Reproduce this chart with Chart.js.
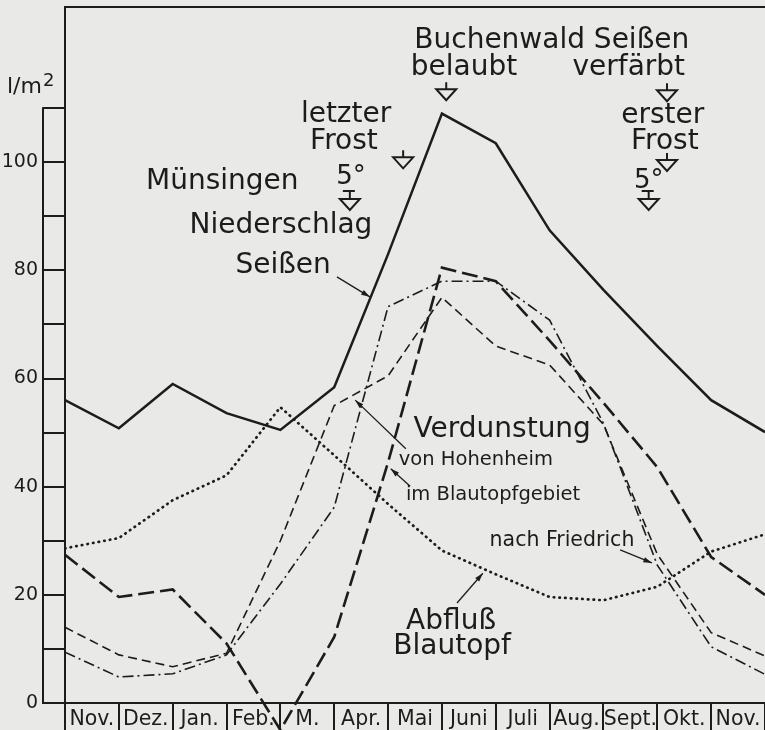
<!DOCTYPE html>
<html lang="de">
<head>
<meta charset="utf-8">
<title>Niederschlag, Verdunstung und Abfluß im Blautopfgebiet</title>
<script src="https://cdn.jsdelivr.net/npm/chart.js@4.4.1/dist/chart.umd.min.js"></script>
<style>
  html, body { margin: 0; padding: 0; background: #e9e9e7; }
  canvas { display: block; }
</style>
</head>
<body>
<canvas id="chart" width="765" height="730"></canvas>
<script>
// Monate Nov. bis Nov.; die Werte liegen jeweils auf dem Monatsanfang
const months = ['Nov.', 'Dez.', 'Jan.', 'Feb.', 'M.', 'Apr.', 'Mai', 'Juni', 'Juli', 'Aug.', 'Sept.', 'Okt.', 'Nov.'];
const monthStart = [0, 1, 2, 3, 4, 5, 6, 7, 8, 9, 10, 11, 12, 13];

// l/m²
const niederschlagSeissen = [56, 50.8, 59, 53.6, 50.5, 58.4, 83, 109, 103.5, 87.4, 76.4, 66, 56, 50.1];
const verdunstungBlautopf = [27.4, 19.6, 21, 11, -5, 12.2, 44.5, 80.5, 78, 67, 55.5, 43.6, 27, 20];
const verdunstungHohenheim = [14, 8.9, 6.7, 9.2, 30, 55, 60.5, 75, 66, 62.5, 51.5, 27.5, 13, 8.7];
const verdunstungFriedrich = [9.4, 4.8, 5.4, 8.9, 22, 36.2, 73.3, 78, 78, 70.8, 51.7, 25.5, 10.4, 5.3];
const abflussBlautopf = [28.6, 30.5, 37.5, 42.1, 54.7, 45.8, 36.8, 28.2, 23.8, 19.6, 19, 21.5, 28, 31.2];

const yTicks = [0, 10, 20, 30, 40, 50, 60, 70, 80, 90, 100, 110];
const yLabels = [0, 20, 40, 60, 80, 100];

const ink = '#1c1c1c';
const paper = '#e9e9e7';
const family = '"DejaVu Sans", "Liberation Sans", sans-serif';

// Beschriftungen im Diagramm (in Achsenwerten)
const notes = [
  { text: 'Buchenwald Seißen', x: 9.04, y: 122.4, size: 28 },
  { text: 'belaubt', x: 7.41, y: 117.5, size: 28 },
  { text: 'verfärbt', x: 10.47, y: 117.5, size: 28 },
  { text: 'letzter', x: 5.22, y: 108.7, size: 28 },
  { text: 'Frost', x: 5.18, y: 103.7, size: 28 },
  { text: 'Münsingen', x: 2.92, y: 96.4, size: 28 },
  { text: '5°', x: 5.31, y: 97.2, size: 26 },
  { text: 'Niederschlag', x: 4.01, y: 88.2, size: 28 },
  { text: 'Seißen', x: 4.05, y: 80.8, size: 28 },
  { text: 'erster', x: 11.1, y: 108.6, size: 28 },
  { text: 'Frost', x: 11.14, y: 103.7, size: 28 },
  { text: '5°', x: 10.84, y: 96.5, size: 26 },
  { text: 'Verdunstung', x: 8.12, y: 50.5, size: 28 },
  { text: 'von Hohenheim', x: 7.63, y: 44.9, size: 19.5 },
  { text: 'im Blautopfgebiet', x: 7.95, y: 38.5, size: 19.5 },
  { text: 'nach Friedrich', x: 9.23, y: 30.1, size: 20.5 },
  { text: 'Abfluß', x: 7.17, y: 15.1, size: 28 },
  { text: 'Blautopf', x: 7.19, y: 10.4, size: 28 }
];

// Dreieck-Marken (Spitze nach unten), Lage = Oberkante des Dreiecks
const markers = [
  { x: 7.08, y: 113.5 },
  { x: 11.18, y: 113.3 },
  { x: 6.28, y: 100.9 },
  { x: 11.18, y: 100.4 },
  { x: 5.29, y: 93.2, underline: true },
  { x: 10.84, y: 93.2, underline: true }
];

// Hinweispfeile: von (x0,y0) nach (x1,y1)
const pointers = [
  { x0: 5.05, y0: 78.8, x1: 5.66, y1: 75.1 },
  { x0: 6.33, y0: 47.0, x1: 5.39, y1: 56.0 },
  { x0: 6.41, y0: 40.1, x1: 6.05, y1: 43.3 },
  { x0: 10.31, y0: 28.3, x1: 10.9, y1: 25.9 },
  { x0: 7.28, y0: 18.5, x1: 7.76, y1: 24.0 }
];

function points(values) {
  return monthStart.map((m, i) => ({ x: m, y: values[i] }));
}

const decor = {
  id: 'decor',
  beforeDraw(chart) {
    const c = chart.ctx;
    c.save();
    c.fillStyle = paper;
    c.fillRect(0, 0, chart.width, chart.height);
    c.restore();
  },
  afterDraw(chart) {
    const { ctx, chartArea, scales } = chart;
    const sx = scales.x, sy = scales.y;
    ctx.save();
    ctx.strokeStyle = ink;
    ctx.fillStyle = ink;
    ctx.lineWidth = 2;

    // Rahmen oben
    ctx.beginPath();
    ctx.moveTo(chartArea.left - 1, chartArea.top);
    ctx.lineTo(chartArea.right, chartArea.top);
    ctx.stroke();

    // Skalenleiste links
    const bar = chartArea.left - 22;
    ctx.beginPath();
    ctx.moveTo(bar, sy.getPixelForValue(0) + 1);
    ctx.lineTo(bar, sy.getPixelForValue(110) - 1);
    ctx.stroke();

    // Einheit
    ctx.textBaseline = 'alphabetic';
    ctx.textAlign = 'left';
    ctx.font = '22px ' + family;
    const ux = 7, uy = sy.getPixelForValue(112.8);
    ctx.fillText('l/m', ux, uy);
    const w = ctx.measureText('l/m').width;
    ctx.font = '18px ' + family;
    ctx.fillText('2', ux + w + 1, uy - 7);

    // Texte
    ctx.textAlign = 'center';
    ctx.textBaseline = 'middle';
    notes.forEach(n => {
      ctx.font = n.size + 'px ' + family;
      ctx.fillText(n.text, sx.getPixelForValue(n.x), sy.getPixelForValue(n.y));
    });

    // Marken
    ctx.lineWidth = 2;
    markers.forEach(m => {
      const px = sx.getPixelForValue(m.x), py = sy.getPixelForValue(m.y);
      ctx.beginPath();
      ctx.moveTo(px, py - 7);
      ctx.lineTo(px, py);
      if (m.underline) {
        ctx.moveTo(px - 7, py - 8);
        ctx.lineTo(px + 5, py - 8);
      }
      ctx.moveTo(px - 10, py);
      ctx.lineTo(px + 10, py);
      ctx.lineTo(px, py + 11);
      ctx.closePath();
      ctx.stroke();
    });

    // Pfeile
    ctx.lineWidth = 1.3;
    pointers.forEach(p => {
      const ax = sx.getPixelForValue(p.x0), ay = sy.getPixelForValue(p.y0);
      const bx = sx.getPixelForValue(p.x1), by = sy.getPixelForValue(p.y1);
      const ang = Math.atan2(by - ay, bx - ax);
      ctx.beginPath();
      ctx.moveTo(ax, ay);
      ctx.lineTo(bx, by);
      ctx.stroke();
      ctx.beginPath();
      ctx.moveTo(bx, by);
      ctx.lineTo(bx - 9 * Math.cos(ang - 0.3), by - 9 * Math.sin(ang - 0.3));
      ctx.lineTo(bx - 9 * Math.cos(ang + 0.3), by - 9 * Math.sin(ang + 0.3));
      ctx.closePath();
      ctx.fill();
    });
    ctx.restore();
  }
};

new Chart(document.getElementById('chart'), {
  type: 'line',
  data: {
    datasets: [
      {
        label: 'Niederschlag Seißen',
        data: points(niederschlagSeissen),
        borderColor: ink, borderWidth: 2.5, borderDash: []
      },
      {
        label: 'Verdunstung im Blautopfgebiet',
        data: points(verdunstungBlautopf),
        borderColor: ink, borderWidth: 2.6, borderDash: [16, 6], clip: false
      },
      {
        label: 'Verdunstung von Hohenheim',
        data: points(verdunstungHohenheim),
        borderColor: ink, borderWidth: 1.6, borderDash: [9, 5]
      },
      {
        label: 'Verdunstung nach Friedrich',
        data: points(verdunstungFriedrich),
        borderColor: ink, borderWidth: 1.6, borderDash: [11, 4, 2, 4]
      },
      {
        label: 'Abfluß Blautopf',
        data: points(abflussBlautopf),
        borderColor: ink, borderWidth: 2.7, borderDash: [0.5, 5.2], borderCapStyle: 'round'
      }
    ]
  },
  options: {
    responsive: false,
    devicePixelRatio: 1,
    animation: false,
    events: [],
    layout: { padding: { top: 7, left: 0, right: 0, bottom: 0 } },
    elements: {
      line: { tension: 0, fill: false },
      point: { radius: 0 }
    },
    plugins: {
      legend: { display: false },
      tooltip: { enabled: false }
    },
    scales: {
      x: {
        type: 'linear',
        min: 0,
        max: 13,
        afterBuildTicks: s => {
          s.ticks = [];
          for (let i = 0; i <= 26; i++) s.ticks.push({ value: i / 2 });
        },
        afterFit: s => { s.height = 27; s.paddingLeft = 0; s.paddingRight = 0; },
        grid: {
          drawOnChartArea: false,
          tickLength: 27,
          lineWidth: 2,
          color: c => (c.tick && c.tick.value % 1 === 0) ? ink : 'rgba(0,0,0,0)'
        },
        border: { display: true, color: ink, width: 2 },
        ticks: {
          autoSkip: false,
          maxRotation: 0,
          padding: -23,
          color: ink,
          font: { family: family, size: 20.5 },
          callback: v => (v % 1 !== 0) ? months[Math.floor(v)] : ''
        }
      },
      y: {
        type: 'linear',
        min: 0,
        max: 128.7,
        afterBuildTicks: s => { s.ticks = yTicks.map(v => ({ value: v })); },
        afterFit: s => { s.width = 65; s.paddingTop = 0; s.paddingBottom = 0; },
        grid: {
          drawOnChartArea: false,
          tickLength: 22,
          lineWidth: 2,
          color: ink
        },
        border: { display: true, color: ink, width: 2 },
        ticks: {
          padding: 5,
          color: ink,
          autoSkip: false,
          font: { family: family, size: 19 },
          callback: v => yLabels.includes(v) ? String(v) : ''
        }
      }
    }
  },
  plugins: [decor]
});
</script>
</body>
</html>
